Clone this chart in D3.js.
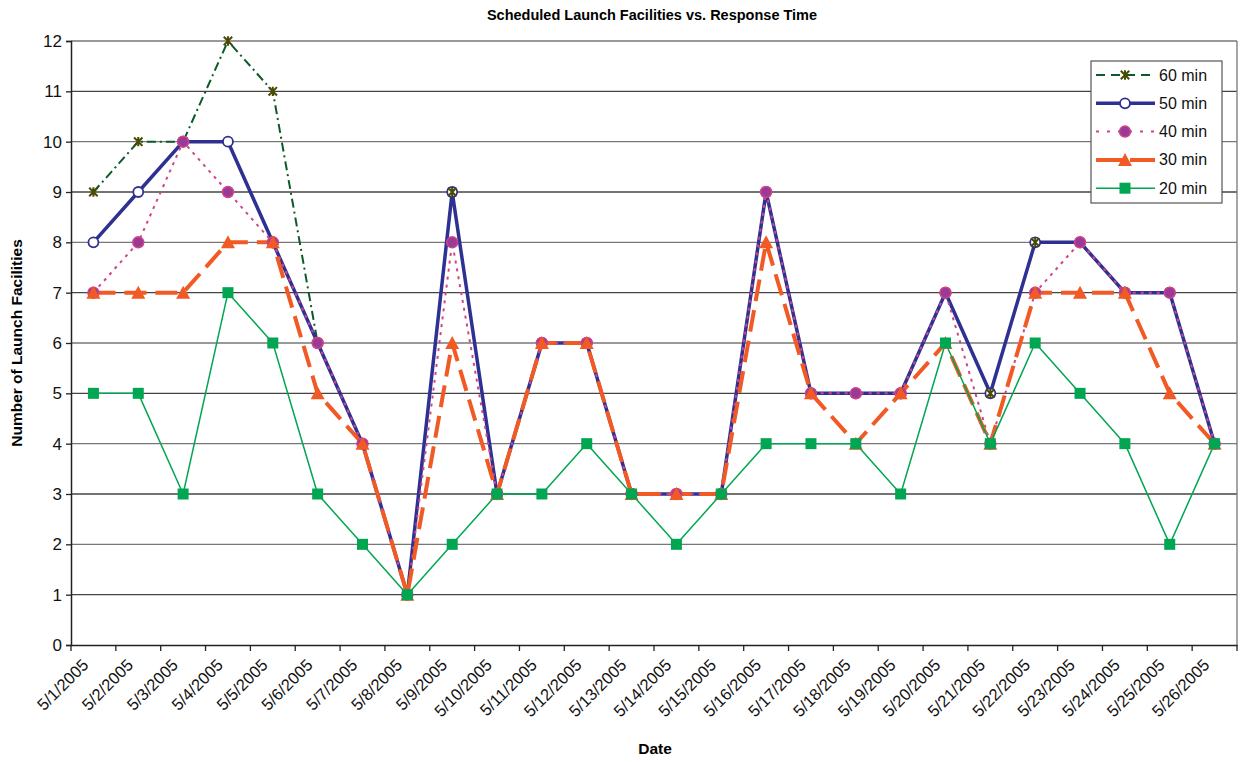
<!DOCTYPE html>
<html><head><meta charset="utf-8">
<script src="https://cdn.jsdelivr.net/npm/d3@7"></script>
<style>body{margin:0;background:#fff;} text{font-family:"Liberation Sans",Arial,sans-serif;}</style>
</head><body>
<svg id="c" width="1243" height="762"></svg>
<script>
const dates = ["5/1/2005","5/2/2005","5/3/2005","5/4/2005","5/5/2005","5/6/2005","5/7/2005","5/8/2005","5/9/2005","5/10/2005","5/11/2005","5/12/2005","5/13/2005","5/14/2005","5/15/2005","5/16/2005","5/17/2005","5/18/2005","5/19/2005","5/20/2005","5/21/2005","5/22/2005","5/23/2005","5/24/2005","5/25/2005","5/26/2005"];
const min60 = [9,10,10,12,11,6,4,1,9,3,6,6,3,3,3,9,5,5,5,7,5,8,8,7,7,4];
const min50 = [8,9,10,10,8,6,4,1,9,3,6,6,3,3,3,9,5,5,5,7,5,8,8,7,7,4];
const min40 = [7,8,10,9,8,6,4,1,8,3,6,6,3,3,3,9,5,5,5,7,4,7,8,7,7,4];
const min30 = [7,7,7,8,8,5,4,1,6,3,6,6,3,3,3,8,5,4,5,6,4,7,7,7,5,4];
const min20 = [5,5,3,7,6,3,2,1,2,3,3,4,3,2,3,4,4,4,3,6,4,6,5,4,2,4];
const yTicks = [0,1,2,3,4,5,6,7,8,9,10,11,12];
const seriesNames = ["60 min","50 min","40 min","30 min","20 min"];

const series = [
  {name:seriesNames[0], values:min60, color:"#0b5a2a", width:2, dash:"9,4,2,4", marker:"star", mcolor:"#4a4a00"},
  {name:seriesNames[1], values:min50, color:"#2e3192", width:3.5, dash:null, marker:"circle"},
  {name:seriesNames[2], values:min40, color:"#d0448a", width:2, dash:"3,5", marker:"dot"},
  {name:seriesNames[3], values:min30, color:"#f15a24", width:4, dash:"22,9", marker:"tri"},
  {name:seriesNames[4], values:min20, color:"#00a651", width:1.5, dash:null, marker:"sq"}
];

const svg = d3.select("#c");
const L=71, R=1237, T=41, B=645;
const x = d3.scaleBand().domain(dates).range([L,R]);
const y = d3.scaleLinear().domain([0,12]).range([B,T]);
const cx = d => x(d)+x.bandwidth()/2;

// gridlines
svg.append("g").selectAll("line").data(yTicks.filter(v=>v>0)).join("line")
  .attr("x1",L).attr("x2",R).attr("y1",d=>y(d)).attr("y2",d=>y(d))
  .attr("stroke",d=>d%2? "#444":"#777").attr("stroke-width",1.3);
// plot border right
svg.append("line").attr("x1",R).attr("x2",R).attr("y1",T).attr("y2",B).attr("stroke","#777").attr("stroke-width",1.3);

// y axis
const ya = svg.append("g").attr("transform",`translate(${L},0)`)
  .call(d3.axisLeft(y).tickValues(yTicks).tickSize(5).tickPadding(4));
ya.select(".domain").attr("stroke","#222").attr("stroke-width",1.5);
ya.selectAll(".tick line").attr("stroke","#222").attr("stroke-width",1.3);
ya.selectAll(".tick text").attr("font-size",17).attr("fill","#111").attr("font-family","Liberation Sans, Arial");

// x axis
const xa = svg.append("g").attr("transform",`translate(0,${B})`)
  .call(d3.axisBottom(x).tickSize(0).tickFormat(""));
xa.select(".domain").attr("stroke","#222").attr("stroke-width",1.5);
// boundary ticks
svg.append("g").selectAll("line").data(d3.range(dates.length+1)).join("line")
  .attr("x1",i=>L+i*x.step()).attr("x2",i=>L+i*x.step())
  .attr("y1",B).attr("y2",B+6).attr("stroke","#222").attr("stroke-width",1.3);
svg.append("g").selectAll("text").data(dates).join("text")
  .attr("transform",d=>`translate(${cx(d)-4},${B+21}) rotate(-45)`)
  .attr("text-anchor","end").attr("font-size",16.5).attr("fill","#111").text(d=>d);

// lines
const lineGen = d3.line().x((v,i)=>cx(dates[i])).y(v=>y(v));
series.forEach(s=>{
  svg.append("path").datum(s.values).attr("d",lineGen).attr("fill","none")
    .attr("stroke",s.color).attr("stroke-width",s.width)
    .attr("stroke-dasharray",s.dash).attr("stroke-linejoin","round");
});

function drawMarker(g, type, px, py, s){
  if(type==="star"){
    const r=4.2;
    g.append("path").attr("d",`M${px-r},${py-r}L${px+r},${py+r}M${px-r},${py+r}L${px+r},${py-r}M${px},${py-r-0.5}L${px},${py+r+0.5}`)
      .attr("stroke",s.mcolor).attr("stroke-width",2).attr("fill","none");
  } else if(type==="circle"){
    g.append("circle").attr("cx",px).attr("cy",py).attr("r",5).attr("fill","#fff").attr("stroke",s.color).attr("stroke-width",1.8);
  } else if(type==="dot"){
    g.append("circle").attr("cx",px).attr("cy",py).attr("r",5.5).attr("fill","#9b3a96").attr("stroke","#d0448a").attr("stroke-width",1.5);
  } else if(type==="tri"){
    g.append("path").attr("d",`M${px},${py-7}L${px+7},${py+6}L${px-7},${py+6}Z`).attr("fill",s.color);
  } else if(type==="sq"){
    g.append("rect").attr("x",px-5.5).attr("y",py-5.5).attr("width",11).attr("height",11).attr("fill",s.color);
  }
}
// markers order: 50, 60, 40, 30, 20
[1,0,2,3,4].forEach(k=>{
  const s=series[k];
  const g=svg.append("g");
  s.values.forEach((v,i)=>drawMarker(g,s.marker,cx(dates[i]),y(v),s));
});

// legend
const lg = svg.append("g");
lg.append("rect").attr("x",1091).attr("y",61).attr("width",131).attr("height",142)
  .attr("fill","#fff").attr("stroke","#555").attr("stroke-width",1.2);
series.forEach((s,i)=>{
  const ly = 75 + i*28.3;
  lg.append("line").attr("x1",1096).attr("x2",1155).attr("y1",ly).attr("y2",ly)
    .attr("stroke",s.color).attr("stroke-width",s.width).attr("stroke-dasharray",s.dash? (s.marker==="star"?"9,6": s.marker==="dot"?"3,8":"26,8"):null);
  drawMarker(lg,s.marker,1125,ly,s);
  lg.append("text").attr("x",1159).attr("y",ly+5.5).attr("font-size",16).attr("fill","#111").text(s.name);
});

// titles
svg.append("text").attr("x",652).attr("y",20).attr("text-anchor","middle").attr("font-size",14.5).attr("font-weight","bold").text("Scheduled Launch Facilities vs. Response Time");
svg.append("text").attr("transform","translate(22,343) rotate(-90)").attr("text-anchor","middle").attr("font-size",15.5).attr("font-weight","bold").text("Number of Launch Facilities");
svg.append("text").attr("x",655).attr("y",754).attr("text-anchor","middle").attr("font-size",15.5).attr("font-weight","bold").text("Date");
</script>
</body></html>
